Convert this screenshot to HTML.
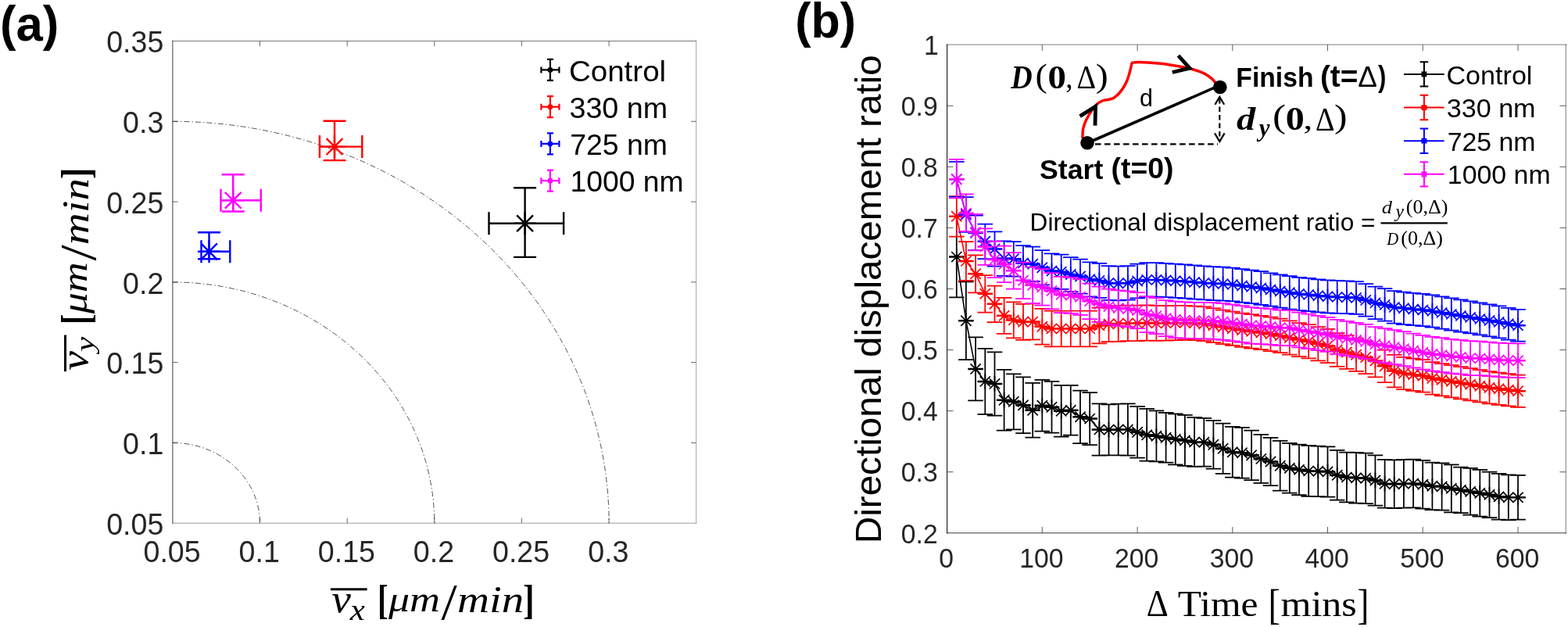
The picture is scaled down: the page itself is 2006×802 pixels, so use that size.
<!DOCTYPE html>
<html lang="en">
<head>
<meta charset="utf-8">
<title>Figure: velocity components and directional displacement ratio</title>
<style>
html,body{margin:0;padding:0;background:#fff;}
body{width:2006px;height:802px;overflow:hidden;}
svg{display:block;}
text{white-space:pre;}
</style>
</head>
<body>
<svg width="2006" height="802" viewBox="0 0 2006 802">
<rect width="2006" height="802" fill="#fff"/>
<g id="panel-a">
<g fill="none" stroke="#000" stroke-width="0.8" stroke-dasharray="7 3 1.5 3" opacity="0.85">
<path d="M220.9 566.4 A111.6 102.8 0 0 1 332.5 669.2"/>
<path d="M220.9 360.9 A334.9 308.4 0 0 1 555.8 669.2"/>
<path d="M220.9 155.3 A558.2 513.9 0 0 1 779.1 669.2"/>
</g>
<g fill="none" stroke="#262626" stroke-width="1" stroke-linecap="square">
<path d="M220.9 52.5 V669.2" stroke-opacity="0.9"/>
<path d="M220.9 52.5 H890.7" stroke-opacity="0.62"/>
<path d="M890.7 52.5 V669.2" stroke-opacity="0.42"/>
<path d="M220.9 669.2 H890.7" stroke-opacity="0.45"/>
</g>
<g stroke="#262626" stroke-width="1" stroke-opacity="0.7">
<path d="M332.5 669.2 v-6.7 M332.5 52.5 v6.7"/>
<path d="M220.9 566.4 h6.7 M890.7 566.4 h-6.7"/>
<path d="M444.2 669.2 v-6.7 M444.2 52.5 v6.7"/>
<path d="M220.9 463.6 h6.7 M890.7 463.6 h-6.7"/>
<path d="M555.8 669.2 v-6.7 M555.8 52.5 v6.7"/>
<path d="M220.9 360.9 h6.7 M890.7 360.9 h-6.7"/>
<path d="M667.4 669.2 v-6.7 M667.4 52.5 v6.7"/>
<path d="M220.9 258.1 h6.7 M890.7 258.1 h-6.7"/>
<path d="M779.1 669.2 v-6.7 M779.1 52.5 v6.7"/>
<path d="M220.9 155.3 h6.7 M890.7 155.3 h-6.7"/>
</g>
<g font-family="'Liberation Sans', Arial, sans-serif" font-size="37.6" fill="#262626">
<text transform="translate(220.1 718.9) scale(1 1.035)" text-anchor="middle">0.05</text>
<text transform="translate(331.7 718.9) scale(1 1.035)" text-anchor="middle">0.1</text>
<text transform="translate(443.4 718.9) scale(1 1.035)" text-anchor="middle">0.15</text>
<text transform="translate(555.0 718.9) scale(1 1.035)" text-anchor="middle">0.2</text>
<text transform="translate(666.6 718.9) scale(1 1.035)" text-anchor="middle">0.25</text>
<text transform="translate(778.3 718.9) scale(1 1.035)" text-anchor="middle">0.3</text>
<text transform="translate(209.3 683.8) scale(1 1.035)" text-anchor="end">0.05</text>
<text transform="translate(209.3 581.0) scale(1 1.035)" text-anchor="end">0.1</text>
<text transform="translate(209.3 478.2) scale(1 1.035)" text-anchor="end">0.15</text>
<text transform="translate(209.3 375.5) scale(1 1.035)" text-anchor="end">0.2</text>
<text transform="translate(209.3 272.7) scale(1 1.035)" text-anchor="end">0.25</text>
<text transform="translate(209.3 169.9) scale(1 1.035)" text-anchor="end">0.3</text>
<text transform="translate(209.3 67.1) scale(1 1.035)" text-anchor="end">0.35</text>
</g>
<g stroke="#000000" stroke-width="2.4" fill="none">
<path d="M671.6 240.3 V328.9 M657.1 240.3 h29.0 M657.1 328.9 h29.0"/>
<path d="M625.5 285.8 H721.1 M625.5 271.3 v29.0 M721.1 271.3 v29.0"/>
<path d="M661.2 275.40000000000003 L682.0 296.2 M661.2 296.2 L682.0 275.40000000000003 M657.1 285.8 h29.0 M671.6 271.3 v29.0"/>
</g>
<g stroke="#ff0000" stroke-width="2.4" fill="none">
<path d="M428.0 154.7 V205.1 M413.5 154.7 h29.0 M413.5 205.1 h29.0"/>
<path d="M408.9 187.6 H463.3 M408.9 173.1 v29.0 M463.3 173.1 v29.0"/>
<path d="M417.6 177.2 L438.4 198.0 M417.6 198.0 L438.4 177.2 M413.5 187.6 h29.0 M428.0 173.1 v29.0"/>
</g>
<g stroke="#0000ff" stroke-width="2.4" fill="none">
<path d="M267.5 297.2 V331.3 M253.0 297.2 h29.0 M253.0 331.3 h29.0"/>
<path d="M257.5 321.8 H294.3 M257.5 307.3 v29.0 M294.3 307.3 v29.0"/>
<path d="M257.1 311.40000000000003 L277.9 332.2 M257.1 332.2 L277.9 311.40000000000003 M253.0 321.8 h29.0 M267.5 307.3 v29.0"/>
</g>
<g stroke="#ff00ff" stroke-width="2.4" fill="none">
<path d="M298.2 223.2 V270.5 M283.7 223.2 h29.0 M283.7 270.5 h29.0"/>
<path d="M282.5 256.3 H333.8 M282.5 241.8 v29.0 M333.8 241.8 v29.0"/>
<path d="M287.8 245.9 L308.59999999999997 266.7 M287.8 266.7 L308.59999999999997 245.9 M283.7 256.3 h29.0 M298.2 241.8 v29.0"/>
</g>
<g stroke="#000000" stroke-width="2.2" fill="none">
<path d="M703.9 75.9 V102.9 M699.9 75.9 h8 M699.9 102.9 h8"/>
<path d="M692.4 89.4 H715.4 M692.4 85.4 v8 M715.4 85.4 v8"/>
<circle cx="703.9" cy="89.4" r="3.4" fill="#000000" stroke="none"/>
</g>
<text transform="translate(727.97 103.60) scale(0.3852 0.3717)" font-family="'Liberation Sans', Arial, sans-serif" font-size="100" fill="#000">Control</text>
<g stroke="#ff0000" stroke-width="2.2" fill="none">
<path d="M703.9 123.15 V150.15 M699.9 123.15 h8 M699.9 150.15 h8"/>
<path d="M692.4 136.65 H715.4 M692.4 132.65 v8 M715.4 132.65 v8"/>
<circle cx="703.9" cy="136.65" r="3.4" fill="#ff0000" stroke="none"/>
</g>
<text transform="translate(728.49 150.85) scale(0.3765 0.3765)" font-family="'Liberation Sans', Arial, sans-serif" font-size="100" fill="#000">330 nm</text>
<g stroke="#0000ff" stroke-width="2.2" fill="none">
<path d="M703.9 170.4 V197.4 M699.9 170.4 h8 M699.9 197.4 h8"/>
<path d="M692.4 183.9 H715.4 M692.4 179.9 v8 M715.4 179.9 v8"/>
<circle cx="703.9" cy="183.9" r="3.4" fill="#0000ff" stroke="none"/>
</g>
<text transform="translate(729.23 198.10) scale(0.3742 0.3742)" font-family="'Liberation Sans', Arial, sans-serif" font-size="100" fill="#000">725 nm</text>
<g stroke="#ff00ff" stroke-width="2.2" fill="none">
<path d="M703.9 217.65 V244.65 M699.9 217.65 h8 M699.9 244.65 h8"/>
<path d="M692.4 231.15 H715.4 M692.4 227.15 v8 M715.4 227.15 v8"/>
<circle cx="703.9" cy="231.15" r="3.4" fill="#ff00ff" stroke="none"/>
</g>
<text transform="translate(729.61 245.35) scale(0.3725 0.3725)" font-family="'Liberation Sans', Arial, sans-serif" font-size="100" fill="#000">1000 nm</text>
<g><path d="M422.9 753.8 H469.6" stroke="#000" stroke-width="3" fill="none"/><text transform="translate(424.27 782.70) scale(0.5558 0.4979)" font-family="'Liberation Serif', 'DejaVu Serif', serif" font-size="100" font-style="italic" fill="#000">v</text><text transform="translate(447.74 793.10) scale(0.4311 0.3739)" font-family="'Liberation Serif', 'DejaVu Serif', serif" font-size="100" font-style="italic" fill="#000">x</text><text transform="translate(483.07 785.28) scale(0.4045 0.5277)" font-family="'Liberation Serif', 'DejaVu Serif', serif" font-size="100" font-weight="bold" fill="#000">[</text><text transform="translate(496.90 781.62) scale(0.5395 0.4642)" font-family="'Liberation Serif', 'DejaVu Serif', serif" font-size="100" font-style="italic" fill="#000">μm</text><text transform="translate(564.50 792.15) scale(0.7279 0.6478)" font-family="'Liberation Serif', 'DejaVu Serif', serif" font-size="100" fill="#000">/</text><text transform="translate(584.91 783.30) scale(0.5680 0.4785)" font-family="'Liberation Serif', 'DejaVu Serif', serif" font-size="100" font-style="italic" fill="#000">min</text><text transform="translate(669.19 785.28) scale(0.4311 0.5277)" font-family="'Liberation Serif', 'DejaVu Serif', serif" font-size="100" font-weight="bold" fill="#000">]</text></g>
<g transform="translate(-670.3 898.1) rotate(-90)"><path d="M422.9 753.8 H469.6" stroke="#000" stroke-width="3" fill="none"/><text transform="translate(424.27 782.70) scale(0.5558 0.4979)" font-family="'Liberation Serif', 'DejaVu Serif', serif" font-size="100" font-style="italic" fill="#000">v</text><text transform="translate(448.25 790.67) scale(0.4303 0.3363)" font-family="'Liberation Serif', 'DejaVu Serif', serif" font-size="100" font-style="italic" fill="#000">y</text><text transform="translate(483.07 785.28) scale(0.4045 0.5277)" font-family="'Liberation Serif', 'DejaVu Serif', serif" font-size="100" font-weight="bold" fill="#000">[</text><text transform="translate(496.90 781.62) scale(0.5395 0.4642)" font-family="'Liberation Serif', 'DejaVu Serif', serif" font-size="100" font-style="italic" fill="#000">μm</text><text transform="translate(564.50 792.15) scale(0.7279 0.6478)" font-family="'Liberation Serif', 'DejaVu Serif', serif" font-size="100" fill="#000">/</text><text transform="translate(584.91 783.30) scale(0.5680 0.4785)" font-family="'Liberation Serif', 'DejaVu Serif', serif" font-size="100" font-style="italic" fill="#000">min</text><text transform="translate(669.19 785.28) scale(0.4311 0.5277)" font-family="'Liberation Serif', 'DejaVu Serif', serif" font-size="100" font-weight="bold" fill="#000">]</text></g>
<text transform="translate(-0.08 51.72) scale(0.6165 0.6306)" font-family="'Liberation Sans', Arial, sans-serif" font-size="100" font-weight="bold" fill="#000">(a)</text>
</g>
<g id="panel-b">
<g fill="none" stroke="#262626" stroke-linecap="square">
<path d="M1211.6 57.2 H2003.3" stroke-opacity="0.34" stroke-width="1.7"/>
<path d="M2003.3 57.2 V681.8" stroke-opacity="0.38" stroke-width="1.7"/>
<path d="M1211.6 57.2 V681.8" stroke-width="1.2"/>
<path d="M1211.6 681.8 H2003.3" stroke-opacity="0.9" stroke-width="1.1"/>
</g>
<g stroke="#262626" stroke-width="1" stroke-opacity="0.75">
<path d="M1333.3 681.8 v-7.9 M1333.3 57.2 v7.9"/>
<path d="M1455.1 681.8 v-7.9 M1455.1 57.2 v7.9"/>
<path d="M1576.8 681.8 v-7.9 M1576.8 57.2 v7.9"/>
<path d="M1698.5 681.8 v-7.9 M1698.5 57.2 v7.9"/>
<path d="M1820.2 681.8 v-7.9 M1820.2 57.2 v7.9"/>
<path d="M1942.0 681.8 v-7.9 M1942.0 57.2 v7.9"/>
<path d="M1211.6 603.7 h7.9 M2003.3 603.7 h-7.9"/>
<path d="M1211.6 525.6 h7.9 M2003.3 525.6 h-7.9"/>
<path d="M1211.6 447.6 h7.9 M2003.3 447.6 h-7.9"/>
<path d="M1211.6 369.5 h7.9 M2003.3 369.5 h-7.9"/>
<path d="M1211.6 291.4 h7.9 M2003.3 291.4 h-7.9"/>
<path d="M1211.6 213.4 h7.9 M2003.3 213.4 h-7.9"/>
<path d="M1211.6 135.3 h7.9 M2003.3 135.3 h-7.9"/>
</g>
<g font-family="'Liberation Sans', Arial, sans-serif" font-size="33.7" fill="#262626">
<text transform="translate(1210.7 726.1) scale(1 1.04)" text-anchor="middle">0</text>
<text transform="translate(1332.4 726.1) scale(1 1.04)" text-anchor="middle">100</text>
<text transform="translate(1454.2 726.1) scale(1 1.04)" text-anchor="middle">200</text>
<text transform="translate(1575.9 726.1) scale(1 1.04)" text-anchor="middle">300</text>
<text transform="translate(1697.6 726.1) scale(1 1.04)" text-anchor="middle">400</text>
<text transform="translate(1819.3 726.1) scale(1 1.04)" text-anchor="middle">500</text>
<text transform="translate(1941.1 726.1) scale(1 1.04)" text-anchor="middle">600</text>
<text transform="translate(1199.7 694.5) scale(1 1.04)" text-anchor="end">0.2</text>
<text transform="translate(1199.7 616.4) scale(1 1.04)" text-anchor="end">0.3</text>
<text transform="translate(1199.7 538.4) scale(1 1.04)" text-anchor="end">0.4</text>
<text transform="translate(1199.7 460.3) scale(1 1.04)" text-anchor="end">0.5</text>
<text transform="translate(1199.7 382.2) scale(1 1.04)" text-anchor="end">0.6</text>
<text transform="translate(1199.7 304.1) scale(1 1.04)" text-anchor="end">0.7</text>
<text transform="translate(1199.7 226.1) scale(1 1.04)" text-anchor="end">0.8</text>
<text transform="translate(1199.7 148.0) scale(1 1.04)" text-anchor="end">0.9</text>
<text transform="translate(1200.7 69.9) scale(1 1.04)" text-anchor="end">1</text>
</g>
<g stroke="#000000" stroke-width="1.75" fill="none">
<path d="M1223.8 276.9V380.3M1214.0 276.9h19.6M1214.0 380.3h19.6M1235.9 360.3V460.1M1226.1 360.3h19.6M1226.1 460.1h19.6M1248.1 431.4V512.4M1238.3 431.4h19.6M1238.3 512.4h19.6M1260.3 445.9V529.9M1250.5 445.9h19.6M1250.5 529.9h19.6M1272.5 450.3V531.5M1262.7 450.3h19.6M1262.7 531.5h19.6M1284.6 472.9V550.7M1274.8 472.9h19.6M1274.8 550.7h19.6M1296.8 478.3V549.3M1287.0 478.3h19.6M1287.0 549.3h19.6M1309.0 482.3V554.1M1299.2 482.3h19.6M1299.2 554.1h19.6M1321.2 489.9V559.7M1311.4 489.9h19.6M1311.4 559.7h19.6M1333.3 485.9V551.7M1323.5 485.9h19.6M1323.5 551.7h19.6M1345.5 487.9V553.7M1335.7 487.9h19.6M1335.7 553.7h19.6M1357.7 492.9V558.7M1347.9 492.9h19.6M1347.9 558.7h19.6M1369.8 492.9V556.7M1360.0 492.9h19.6M1360.0 556.7h19.6M1382.0 499.5V567.1M1372.2 499.5h19.6M1372.2 567.1h19.6M1394.2 502.0V569.2M1384.4 502.0h19.6M1384.4 569.2h19.6M1406.4 516.3V582.5M1396.6 516.3h19.6M1396.6 582.5h19.6M1418.5 517.3V582.3M1408.7 517.3h19.6M1408.7 582.3h19.6M1430.7 516.5V582.3M1420.9 516.5h19.6M1420.9 582.3h19.6M1442.9 516.3V582.5M1433.1 516.3h19.6M1433.1 582.5h19.6M1455.1 519.9V585.7M1445.3 519.9h19.6M1445.3 585.7h19.6M1467.2 522.9V589.5M1457.4 522.9h19.6M1457.4 589.5h19.6M1479.4 525.3V590.3M1469.6 525.3h19.6M1469.6 590.3h19.6M1491.6 527.9V591.7M1481.8 527.9h19.6M1481.8 591.7h19.6M1503.8 529.3V594.3M1494.0 529.3h19.6M1494.0 594.3h19.6M1515.9 530.9V595.9M1506.1 530.9h19.6M1506.1 595.9h19.6M1528.1 533.9V596.9M1518.3 533.9h19.6M1518.3 596.9h19.6M1540.3 534.9V596.7M1530.5 534.9h19.6M1530.5 596.7h19.6M1552.4 537.9V599.7M1542.6 537.9h19.6M1542.6 599.7h19.6M1564.6 541.7V605.9M1554.8 541.7h19.6M1554.8 605.9h19.6M1576.8 545.8V610.6M1567.0 545.8h19.6M1567.0 610.6h19.6M1589.0 546.9V611.7M1579.2 546.9h19.6M1579.2 611.7h19.6M1601.1 550.5V614.1M1591.3 550.5h19.6M1591.3 614.1h19.6M1613.3 555.9V617.9M1603.5 555.9h19.6M1603.5 617.9h19.6M1625.5 559.9V621.1M1615.7 559.9h19.6M1615.7 621.1h19.6M1637.7 563.9V627.7M1627.9 563.9h19.6M1627.9 627.7h19.6M1649.8 566.9V630.7M1640.0 566.9h19.6M1640.0 630.7h19.6M1662.0 568.5V633.1M1652.2 568.5h19.6M1652.2 633.1h19.6M1674.2 569.9V634.9M1664.4 569.9h19.6M1664.4 634.9h19.6M1686.3 570.5V635.1M1676.5 570.5h19.6M1676.5 635.1h19.6M1698.5 571.3V635.5M1688.7 571.3h19.6M1688.7 635.5h19.6M1710.7 575.9V639.7M1700.9 575.9h19.6M1700.9 639.7h19.6M1722.9 578.5V642.3M1713.1 578.5h19.6M1713.1 642.3h19.6M1735.0 578.9V643.5M1725.2 578.9h19.6M1725.2 643.5h19.6M1747.2 579.5V644.1M1737.4 579.5h19.6M1737.4 644.1h19.6M1759.4 582.4V646.6M1749.6 582.4h19.6M1749.6 646.6h19.6M1771.6 587.9V649.7M1761.8 587.9h19.6M1761.8 649.7h19.6M1783.7 588.3V650.1M1773.9 588.3h19.6M1773.9 650.1h19.6M1795.9 587.9V649.7M1786.1 587.9h19.6M1786.1 649.7h19.6M1808.1 587.5V649.3M1798.3 587.5h19.6M1798.3 649.3h19.6M1820.2 588.9V650.7M1810.5 588.9h19.6M1810.5 650.7h19.6M1832.4 591.5V652.1M1822.6 591.5h19.6M1822.6 652.1h19.6M1844.6 592.3V652.5M1834.8 592.3h19.6M1834.8 652.5h19.6M1856.8 594.3V655.3M1847.0 594.3h19.6M1847.0 655.3h19.6M1868.9 597.5V656.1M1859.1 597.5h19.6M1859.1 656.1h19.6M1881.1 598.9V658.7M1871.3 598.9h19.6M1871.3 658.7h19.6M1893.3 600.9V660.7M1883.5 600.9h19.6M1883.5 660.7h19.6M1905.5 603.5V662.1M1895.7 603.5h19.6M1895.7 662.1h19.6M1917.6 605.9V664.5M1907.8 605.9h19.6M1907.8 664.5h19.6M1929.8 607.3V665.1M1920.0 607.3h19.6M1920.0 665.1h19.6M1942.0 607.9V664.5M1932.2 607.9h19.6M1932.2 664.5h19.6"/>
<path d="M1223.8 328.6 L1235.9 410.2 L1248.1 471.9 L1260.3 487.9 L1272.5 490.9 L1284.6 511.8 L1296.8 513.8 L1309.0 518.2 L1321.2 524.8 L1333.3 518.8 L1345.5 520.8 L1357.7 525.8 L1369.8 524.8 L1382.0 533.3 L1394.2 535.6 L1406.4 549.4 L1418.5 549.8 L1430.7 549.4 L1442.9 549.4 L1455.1 552.8 L1467.2 556.2 L1479.4 557.8 L1491.6 559.8 L1503.8 561.8 L1515.9 563.4 L1528.1 565.4 L1540.3 565.8 L1552.4 568.8 L1564.6 573.8 L1576.8 578.2 L1589.0 579.3 L1601.1 582.3 L1613.3 586.9 L1625.5 590.5 L1637.7 595.8 L1649.8 598.8 L1662.0 600.8 L1674.2 602.4 L1686.3 602.8 L1698.5 603.4 L1710.7 607.8 L1722.9 610.4 L1735.0 611.2 L1747.2 611.8 L1759.4 614.5 L1771.6 618.8 L1783.7 619.2 L1795.9 618.8 L1808.1 618.4 L1820.2 619.8 L1832.4 621.8 L1844.6 622.4 L1856.8 624.8 L1868.9 626.8 L1881.1 628.8 L1893.3 630.8 L1905.5 632.8 L1917.6 635.2 L1929.8 636.2 L1942.0 636.2" stroke-width="1.6" stroke-linejoin="round"/>
<path d="M1223.8 318.8v19.6M1217.2 322.0l13.2 13.2M1217.2 335.2l13.2 -13.2M1235.9 400.4v19.6M1229.3 403.6l13.2 13.2M1229.3 416.8l13.2 -13.2M1248.1 462.1v19.6M1241.5 465.3l13.2 13.2M1241.5 478.5l13.2 -13.2M1260.3 478.1v19.6M1253.7 481.3l13.2 13.2M1253.7 494.5l13.2 -13.2M1272.5 481.1v19.6M1265.9 484.3l13.2 13.2M1265.9 497.5l13.2 -13.2M1284.6 502.0v19.6M1278.0 505.2l13.2 13.2M1278.0 518.4l13.2 -13.2M1296.8 504.0v19.6M1290.2 507.2l13.2 13.2M1290.2 520.4l13.2 -13.2M1309.0 508.4v19.6M1302.4 511.6l13.2 13.2M1302.4 524.8l13.2 -13.2M1321.2 515.0v19.6M1314.6 518.2l13.2 13.2M1314.6 531.4l13.2 -13.2M1333.3 509.0v19.6M1326.7 512.2l13.2 13.2M1326.7 525.4l13.2 -13.2M1345.5 511.0v19.6M1338.9 514.2l13.2 13.2M1338.9 527.4l13.2 -13.2M1357.7 516.0v19.6M1351.1 519.2l13.2 13.2M1351.1 532.4l13.2 -13.2M1369.8 515.0v19.6M1363.2 518.2l13.2 13.2M1363.2 531.4l13.2 -13.2M1382.0 523.5v19.6M1375.4 526.7l13.2 13.2M1375.4 539.9l13.2 -13.2M1394.2 525.8v19.6M1387.6 529.0l13.2 13.2M1387.6 542.2l13.2 -13.2M1406.4 539.6v19.6M1399.8 542.8l13.2 13.2M1399.8 556.0l13.2 -13.2M1418.5 540.0v19.6M1411.9 543.2l13.2 13.2M1411.9 556.4l13.2 -13.2M1430.7 539.6v19.6M1424.1 542.8l13.2 13.2M1424.1 556.0l13.2 -13.2M1442.9 539.6v19.6M1436.3 542.8l13.2 13.2M1436.3 556.0l13.2 -13.2M1455.1 543.0v19.6M1448.5 546.2l13.2 13.2M1448.5 559.4l13.2 -13.2M1467.2 546.4v19.6M1460.6 549.6l13.2 13.2M1460.6 562.8l13.2 -13.2M1479.4 548.0v19.6M1472.8 551.2l13.2 13.2M1472.8 564.4l13.2 -13.2M1491.6 550.0v19.6M1485.0 553.2l13.2 13.2M1485.0 566.4l13.2 -13.2M1503.8 552.0v19.6M1497.2 555.2l13.2 13.2M1497.2 568.4l13.2 -13.2M1515.9 553.6v19.6M1509.3 556.8l13.2 13.2M1509.3 570.0l13.2 -13.2M1528.1 555.6v19.6M1521.5 558.8l13.2 13.2M1521.5 572.0l13.2 -13.2M1540.3 556.0v19.6M1533.7 559.2l13.2 13.2M1533.7 572.4l13.2 -13.2M1552.4 559.0v19.6M1545.8 562.2l13.2 13.2M1545.8 575.4l13.2 -13.2M1564.6 564.0v19.6M1558.0 567.2l13.2 13.2M1558.0 580.4l13.2 -13.2M1576.8 568.4v19.6M1570.2 571.6l13.2 13.2M1570.2 584.8l13.2 -13.2M1589.0 569.5v19.6M1582.4 572.7l13.2 13.2M1582.4 585.9l13.2 -13.2M1601.1 572.5v19.6M1594.5 575.7l13.2 13.2M1594.5 588.9l13.2 -13.2M1613.3 577.1v19.6M1606.7 580.3l13.2 13.2M1606.7 593.5l13.2 -13.2M1625.5 580.7v19.6M1618.9 583.9l13.2 13.2M1618.9 597.1l13.2 -13.2M1637.7 586.0v19.6M1631.1 589.2l13.2 13.2M1631.1 602.4l13.2 -13.2M1649.8 589.0v19.6M1643.2 592.2l13.2 13.2M1643.2 605.4l13.2 -13.2M1662.0 591.0v19.6M1655.4 594.2l13.2 13.2M1655.4 607.4l13.2 -13.2M1674.2 592.6v19.6M1667.6 595.8l13.2 13.2M1667.6 609.0l13.2 -13.2M1686.3 593.0v19.6M1679.7 596.2l13.2 13.2M1679.7 609.4l13.2 -13.2M1698.5 593.6v19.6M1691.9 596.8l13.2 13.2M1691.9 610.0l13.2 -13.2M1710.7 598.0v19.6M1704.1 601.2l13.2 13.2M1704.1 614.4l13.2 -13.2M1722.9 600.6v19.6M1716.3 603.8l13.2 13.2M1716.3 617.0l13.2 -13.2M1735.0 601.4v19.6M1728.4 604.6l13.2 13.2M1728.4 617.8l13.2 -13.2M1747.2 602.0v19.6M1740.6 605.2l13.2 13.2M1740.6 618.4l13.2 -13.2M1759.4 604.7v19.6M1752.8 607.9l13.2 13.2M1752.8 621.1l13.2 -13.2M1771.6 609.0v19.6M1765.0 612.2l13.2 13.2M1765.0 625.4l13.2 -13.2M1783.7 609.4v19.6M1777.1 612.6l13.2 13.2M1777.1 625.8l13.2 -13.2M1795.9 609.0v19.6M1789.3 612.2l13.2 13.2M1789.3 625.4l13.2 -13.2M1808.1 608.6v19.6M1801.5 611.8l13.2 13.2M1801.5 625.0l13.2 -13.2M1820.2 610.0v19.6M1813.7 613.2l13.2 13.2M1813.7 626.4l13.2 -13.2M1832.4 612.0v19.6M1825.8 615.2l13.2 13.2M1825.8 628.4l13.2 -13.2M1844.6 612.6v19.6M1838.0 615.8l13.2 13.2M1838.0 629.0l13.2 -13.2M1856.8 615.0v19.6M1850.2 618.2l13.2 13.2M1850.2 631.4l13.2 -13.2M1868.9 617.0v19.6M1862.3 620.2l13.2 13.2M1862.3 633.4l13.2 -13.2M1881.1 619.0v19.6M1874.5 622.2l13.2 13.2M1874.5 635.4l13.2 -13.2M1893.3 621.0v19.6M1886.7 624.2l13.2 13.2M1886.7 637.4l13.2 -13.2M1905.5 623.0v19.6M1898.9 626.2l13.2 13.2M1898.9 639.4l13.2 -13.2M1917.6 625.4v19.6M1911.0 628.6l13.2 13.2M1911.0 641.8l13.2 -13.2M1929.8 626.4v19.6M1923.2 629.6l13.2 13.2M1923.2 642.8l13.2 -13.2M1942.0 626.4v19.6M1935.4 629.6l13.2 13.2M1935.4 642.8l13.2 -13.2" stroke-width="1.7"/>
<path d="M1214.0 328.6h19.6M1226.1 410.2h19.6M1238.3 471.9h19.6M1250.5 487.9h19.6M1262.7 490.9h19.6M1274.8 511.8h19.6M1287.0 513.8h19.6M1299.2 518.2h19.6M1311.4 524.8h19.6M1323.5 518.8h19.6M1335.7 520.8h19.6M1347.9 525.8h19.6M1360.0 524.8h19.6M1372.2 533.3h19.6M1384.4 535.6h19.6M1396.6 549.4h19.6M1408.7 549.8h19.6M1420.9 549.4h19.6M1433.1 549.4h19.6M1445.3 552.8h19.6M1457.4 556.2h19.6M1469.6 557.8h19.6M1481.8 559.8h19.6M1494.0 561.8h19.6M1506.1 563.4h19.6M1518.3 565.4h19.6M1530.5 565.8h19.6M1542.6 568.8h19.6M1554.8 573.8h19.6M1567.0 578.2h19.6M1579.2 579.3h19.6M1591.3 582.3h19.6M1603.5 586.9h19.6M1615.7 590.5h19.6M1627.9 595.8h19.6M1640.0 598.8h19.6M1652.2 600.8h19.6M1664.4 602.4h19.6M1676.5 602.8h19.6M1688.7 603.4h19.6M1700.9 607.8h19.6M1713.1 610.4h19.6M1725.2 611.2h19.6M1737.4 611.8h19.6M1749.6 614.5h19.6M1761.8 618.8h19.6M1773.9 619.2h19.6M1786.1 618.8h19.6M1798.3 618.4h19.6M1810.5 619.8h19.6M1822.6 621.8h19.6M1834.8 622.4h19.6M1847.0 624.8h19.6M1859.1 626.8h19.6M1871.3 628.8h19.6M1883.5 630.8h19.6M1895.7 632.8h19.6M1907.8 635.2h19.6M1920.0 636.2h19.6M1932.2 636.2h19.6" stroke-width="2.5"/>
</g>
<g stroke="#ff0000" stroke-width="1.75" fill="none">
<path d="M1223.8 251.0V302.6M1214.0 251.0h19.6M1214.0 302.6h19.6M1235.9 309.0V358.8M1226.1 309.0h19.6M1226.1 358.8h19.6M1248.1 326.3V374.3M1238.3 326.3h19.6M1238.3 374.3h19.6M1260.3 352.1V399.5M1250.5 352.1h19.6M1250.5 399.5h19.6M1272.5 365.5V412.1M1262.7 365.5h19.6M1262.7 412.1h19.6M1284.6 380.8V426.8M1274.8 380.8h19.6M1274.8 426.8h19.6M1296.8 386.4V432.4M1287.0 386.4h19.6M1287.0 432.4h19.6M1309.0 388.8V434.8M1299.2 388.8h19.6M1299.2 434.8h19.6M1321.2 388.4V434.4M1311.4 388.4h19.6M1311.4 434.4h19.6M1333.3 394.9V440.7M1323.5 394.9h19.6M1323.5 440.7h19.6M1345.5 397.5V443.3M1335.7 397.5h19.6M1335.7 443.3h19.6M1357.7 397.5V443.3M1347.9 397.5h19.6M1347.9 443.3h19.6M1369.8 397.5V443.3M1360.0 397.5h19.6M1360.0 443.3h19.6M1382.0 397.5V443.3M1372.2 397.5h19.6M1372.2 443.3h19.6M1394.2 397.5V443.3M1384.4 397.5h19.6M1384.4 443.3h19.6M1406.4 393.5V439.3M1396.6 393.5h19.6M1396.6 439.3h19.6M1418.5 391.6V437.2M1408.7 391.6h19.6M1408.7 437.2h19.6M1430.7 391.2V436.8M1420.9 391.2h19.6M1420.9 436.8h19.6M1442.9 390.6V436.2M1433.1 390.6h19.6M1433.1 436.2h19.6M1455.1 390.6V436.2M1445.3 390.6h19.6M1445.3 436.2h19.6M1467.2 390.4V435.6M1457.4 390.4h19.6M1457.4 435.6h19.6M1479.4 390.9V435.9M1469.6 390.9h19.6M1469.6 435.9h19.6M1491.6 391.1V435.7M1481.8 391.1h19.6M1481.8 435.7h19.6M1503.8 390.9V435.1M1494.0 390.9h19.6M1494.0 435.1h19.6M1515.9 390.9V434.9M1506.1 390.9h19.6M1506.1 434.9h19.6M1528.1 391.5V435.1M1518.3 391.5h19.6M1518.3 435.1h19.6M1540.3 392.4V436.0M1530.5 392.4h19.6M1530.5 436.0h19.6M1552.4 394.4V438.0M1542.6 394.4h19.6M1542.6 438.0h19.6M1564.6 396.5V440.1M1554.8 396.5h19.6M1554.8 440.1h19.6M1576.8 398.5V441.9M1567.0 398.5h19.6M1567.0 441.9h19.6M1589.0 400.5V443.9M1579.2 400.5h19.6M1579.2 443.9h19.6M1601.1 402.2V445.6M1591.3 402.2h19.6M1591.3 445.6h19.6M1613.3 403.8V447.2M1603.5 403.8h19.6M1603.5 447.2h19.6M1625.5 405.6V449.0M1615.7 405.6h19.6M1615.7 449.0h19.6M1637.7 407.7V451.1M1627.9 407.7h19.6M1627.9 451.1h19.6M1649.8 410.3V453.7M1640.0 410.3h19.6M1640.0 453.7h19.6M1662.0 413.0V456.2M1652.2 413.0h19.6M1652.2 456.2h19.6M1674.2 415.2V458.4M1664.4 415.2h19.6M1664.4 458.4h19.6M1686.3 418.2V461.4M1676.5 418.2h19.6M1676.5 461.4h19.6M1698.5 420.8V464.0M1688.7 420.8h19.6M1688.7 464.0h19.6M1710.7 426.1V468.9M1700.9 426.1h19.6M1700.9 468.9h19.6M1722.9 429.2V471.8M1713.1 429.2h19.6M1713.1 471.8h19.6M1735.0 432.7V474.9M1725.2 432.7h19.6M1725.2 474.9h19.6M1747.2 436.0V478.0M1737.4 436.0h19.6M1737.4 478.0h19.6M1759.4 440.6V482.4M1749.6 440.6h19.6M1749.6 482.4h19.6M1771.6 447.6V489.0M1761.8 447.6h19.6M1761.8 489.0h19.6M1783.7 453.9V495.3M1773.9 453.9h19.6M1773.9 495.3h19.6M1795.9 456.8V498.2M1786.1 456.8h19.6M1786.1 498.2h19.6M1808.1 458.5V499.9M1798.3 458.5h19.6M1798.3 499.9h19.6M1820.2 460.1V501.5M1810.5 460.1h19.6M1810.5 501.5h19.6M1832.4 463.1V504.5M1822.6 463.1h19.6M1822.6 504.5h19.6M1844.6 465.0V506.4M1834.8 465.0h19.6M1834.8 506.4h19.6M1856.8 467.1V508.3M1847.0 467.1h19.6M1847.0 508.3h19.6M1868.9 469.1V510.3M1859.1 469.1h19.6M1859.1 510.3h19.6M1881.1 471.1V512.3M1871.3 471.1h19.6M1871.3 512.3h19.6M1893.3 473.1V514.3M1883.5 473.1h19.6M1883.5 514.3h19.6M1905.5 475.1V516.3M1895.7 475.1h19.6M1895.7 516.3h19.6M1917.6 476.7V517.9M1907.8 476.7h19.6M1907.8 517.9h19.6M1929.8 478.1V519.3M1920.0 478.1h19.6M1920.0 519.3h19.6M1942.0 479.7V520.9M1932.2 479.7h19.6M1932.2 520.9h19.6"/>
<path d="M1223.8 276.8 L1235.9 333.9 L1248.1 350.3 L1260.3 375.8 L1272.5 388.8 L1284.6 403.8 L1296.8 409.4 L1309.0 411.8 L1321.2 411.4 L1333.3 417.8 L1345.5 420.4 L1357.7 420.4 L1369.8 420.4 L1382.0 420.4 L1394.2 420.4 L1406.4 416.4 L1418.5 414.4 L1430.7 414.0 L1442.9 413.4 L1455.1 413.4 L1467.2 413.0 L1479.4 413.4 L1491.6 413.4 L1503.8 413.0 L1515.9 412.9 L1528.1 413.3 L1540.3 414.2 L1552.4 416.2 L1564.6 418.3 L1576.8 420.2 L1589.0 422.2 L1601.1 423.9 L1613.3 425.5 L1625.5 427.3 L1637.7 429.4 L1649.8 432.0 L1662.0 434.6 L1674.2 436.8 L1686.3 439.8 L1698.5 442.4 L1710.7 447.5 L1722.9 450.5 L1735.0 453.8 L1747.2 457.0 L1759.4 461.5 L1771.6 468.3 L1783.7 474.6 L1795.9 477.5 L1808.1 479.2 L1820.2 480.8 L1832.4 483.8 L1844.6 485.7 L1856.8 487.7 L1868.9 489.7 L1881.1 491.7 L1893.3 493.7 L1905.5 495.7 L1917.6 497.3 L1929.8 498.7 L1942.0 500.3" stroke-width="1.6" stroke-linejoin="round"/>
<path d="M1223.8 267.0v19.6M1217.2 270.2l13.2 13.2M1217.2 283.4l13.2 -13.2M1235.9 324.1v19.6M1229.3 327.3l13.2 13.2M1229.3 340.5l13.2 -13.2M1248.1 340.5v19.6M1241.5 343.7l13.2 13.2M1241.5 356.9l13.2 -13.2M1260.3 366.0v19.6M1253.7 369.2l13.2 13.2M1253.7 382.4l13.2 -13.2M1272.5 379.0v19.6M1265.9 382.2l13.2 13.2M1265.9 395.4l13.2 -13.2M1284.6 394.0v19.6M1278.0 397.2l13.2 13.2M1278.0 410.4l13.2 -13.2M1296.8 399.6v19.6M1290.2 402.8l13.2 13.2M1290.2 416.0l13.2 -13.2M1309.0 402.0v19.6M1302.4 405.2l13.2 13.2M1302.4 418.4l13.2 -13.2M1321.2 401.6v19.6M1314.6 404.8l13.2 13.2M1314.6 418.0l13.2 -13.2M1333.3 408.0v19.6M1326.7 411.2l13.2 13.2M1326.7 424.4l13.2 -13.2M1345.5 410.6v19.6M1338.9 413.8l13.2 13.2M1338.9 427.0l13.2 -13.2M1357.7 410.6v19.6M1351.1 413.8l13.2 13.2M1351.1 427.0l13.2 -13.2M1369.8 410.6v19.6M1363.2 413.8l13.2 13.2M1363.2 427.0l13.2 -13.2M1382.0 410.6v19.6M1375.4 413.8l13.2 13.2M1375.4 427.0l13.2 -13.2M1394.2 410.6v19.6M1387.6 413.8l13.2 13.2M1387.6 427.0l13.2 -13.2M1406.4 406.6v19.6M1399.8 409.8l13.2 13.2M1399.8 423.0l13.2 -13.2M1418.5 404.6v19.6M1411.9 407.8l13.2 13.2M1411.9 421.0l13.2 -13.2M1430.7 404.2v19.6M1424.1 407.4l13.2 13.2M1424.1 420.6l13.2 -13.2M1442.9 403.6v19.6M1436.3 406.8l13.2 13.2M1436.3 420.0l13.2 -13.2M1455.1 403.6v19.6M1448.5 406.8l13.2 13.2M1448.5 420.0l13.2 -13.2M1467.2 403.2v19.6M1460.6 406.4l13.2 13.2M1460.6 419.6l13.2 -13.2M1479.4 403.6v19.6M1472.8 406.8l13.2 13.2M1472.8 420.0l13.2 -13.2M1491.6 403.6v19.6M1485.0 406.8l13.2 13.2M1485.0 420.0l13.2 -13.2M1503.8 403.2v19.6M1497.2 406.4l13.2 13.2M1497.2 419.6l13.2 -13.2M1515.9 403.1v19.6M1509.3 406.3l13.2 13.2M1509.3 419.5l13.2 -13.2M1528.1 403.5v19.6M1521.5 406.7l13.2 13.2M1521.5 419.9l13.2 -13.2M1540.3 404.4v19.6M1533.7 407.6l13.2 13.2M1533.7 420.8l13.2 -13.2M1552.4 406.4v19.6M1545.8 409.6l13.2 13.2M1545.8 422.8l13.2 -13.2M1564.6 408.5v19.6M1558.0 411.7l13.2 13.2M1558.0 424.9l13.2 -13.2M1576.8 410.4v19.6M1570.2 413.6l13.2 13.2M1570.2 426.8l13.2 -13.2M1589.0 412.4v19.6M1582.4 415.6l13.2 13.2M1582.4 428.8l13.2 -13.2M1601.1 414.1v19.6M1594.5 417.3l13.2 13.2M1594.5 430.5l13.2 -13.2M1613.3 415.7v19.6M1606.7 418.9l13.2 13.2M1606.7 432.1l13.2 -13.2M1625.5 417.5v19.6M1618.9 420.7l13.2 13.2M1618.9 433.9l13.2 -13.2M1637.7 419.6v19.6M1631.1 422.8l13.2 13.2M1631.1 436.0l13.2 -13.2M1649.8 422.2v19.6M1643.2 425.4l13.2 13.2M1643.2 438.6l13.2 -13.2M1662.0 424.8v19.6M1655.4 428.0l13.2 13.2M1655.4 441.2l13.2 -13.2M1674.2 427.0v19.6M1667.6 430.2l13.2 13.2M1667.6 443.4l13.2 -13.2M1686.3 430.0v19.6M1679.7 433.2l13.2 13.2M1679.7 446.4l13.2 -13.2M1698.5 432.6v19.6M1691.9 435.8l13.2 13.2M1691.9 449.0l13.2 -13.2M1710.7 437.7v19.6M1704.1 440.9l13.2 13.2M1704.1 454.1l13.2 -13.2M1722.9 440.7v19.6M1716.3 443.9l13.2 13.2M1716.3 457.1l13.2 -13.2M1735.0 444.0v19.6M1728.4 447.2l13.2 13.2M1728.4 460.4l13.2 -13.2M1747.2 447.2v19.6M1740.6 450.4l13.2 13.2M1740.6 463.6l13.2 -13.2M1759.4 451.7v19.6M1752.8 454.9l13.2 13.2M1752.8 468.1l13.2 -13.2M1771.6 458.5v19.6M1765.0 461.7l13.2 13.2M1765.0 474.9l13.2 -13.2M1783.7 464.8v19.6M1777.1 468.0l13.2 13.2M1777.1 481.2l13.2 -13.2M1795.9 467.7v19.6M1789.3 470.9l13.2 13.2M1789.3 484.1l13.2 -13.2M1808.1 469.4v19.6M1801.5 472.6l13.2 13.2M1801.5 485.8l13.2 -13.2M1820.2 471.0v19.6M1813.7 474.2l13.2 13.2M1813.7 487.4l13.2 -13.2M1832.4 474.0v19.6M1825.8 477.2l13.2 13.2M1825.8 490.4l13.2 -13.2M1844.6 475.9v19.6M1838.0 479.1l13.2 13.2M1838.0 492.3l13.2 -13.2M1856.8 477.9v19.6M1850.2 481.1l13.2 13.2M1850.2 494.3l13.2 -13.2M1868.9 479.9v19.6M1862.3 483.1l13.2 13.2M1862.3 496.3l13.2 -13.2M1881.1 481.9v19.6M1874.5 485.1l13.2 13.2M1874.5 498.3l13.2 -13.2M1893.3 483.9v19.6M1886.7 487.1l13.2 13.2M1886.7 500.3l13.2 -13.2M1905.5 485.9v19.6M1898.9 489.1l13.2 13.2M1898.9 502.3l13.2 -13.2M1917.6 487.5v19.6M1911.0 490.7l13.2 13.2M1911.0 503.9l13.2 -13.2M1929.8 488.9v19.6M1923.2 492.1l13.2 13.2M1923.2 505.3l13.2 -13.2M1942.0 490.5v19.6M1935.4 493.7l13.2 13.2M1935.4 506.9l13.2 -13.2" stroke-width="1.7"/>
<path d="M1214.0 276.8h19.6M1226.1 333.9h19.6M1238.3 350.3h19.6M1250.5 375.8h19.6M1262.7 388.8h19.6M1274.8 403.8h19.6M1287.0 409.4h19.6M1299.2 411.8h19.6M1311.4 411.4h19.6M1323.5 417.8h19.6M1335.7 420.4h19.6M1347.9 420.4h19.6M1360.0 420.4h19.6M1372.2 420.4h19.6M1384.4 420.4h19.6M1396.6 416.4h19.6M1408.7 414.4h19.6M1420.9 414.0h19.6M1433.1 413.4h19.6M1445.3 413.4h19.6M1457.4 413.0h19.6M1469.6 413.4h19.6M1481.8 413.4h19.6M1494.0 413.0h19.6M1506.1 412.9h19.6M1518.3 413.3h19.6M1530.5 414.2h19.6M1542.6 416.2h19.6M1554.8 418.3h19.6M1567.0 420.2h19.6M1579.2 422.2h19.6M1591.3 423.9h19.6M1603.5 425.5h19.6M1615.7 427.3h19.6M1627.9 429.4h19.6M1640.0 432.0h19.6M1652.2 434.6h19.6M1664.4 436.8h19.6M1676.5 439.8h19.6M1688.7 442.4h19.6M1700.9 447.5h19.6M1713.1 450.5h19.6M1725.2 453.8h19.6M1737.4 457.0h19.6M1749.6 461.5h19.6M1761.8 468.3h19.6M1773.9 474.6h19.6M1786.1 477.5h19.6M1798.3 479.2h19.6M1810.5 480.8h19.6M1822.6 483.8h19.6M1834.8 485.7h19.6M1847.0 487.7h19.6M1859.1 489.7h19.6M1871.3 491.7h19.6M1883.5 493.7h19.6M1895.7 495.7h19.6M1907.8 497.3h19.6M1920.0 498.7h19.6M1932.2 500.3h19.6" stroke-width="2.5"/>
</g>
<g stroke="#0000ff" stroke-width="1.75" fill="none">
<path d="M1223.8 206.9V251.5M1214.0 206.9h19.6M1214.0 251.5h19.6M1235.9 252.2V296.8M1226.1 252.2h19.6M1226.1 296.8h19.6M1248.1 275.6V320.2M1238.3 275.6h19.6M1238.3 320.2h19.6M1260.3 286.6V331.0M1250.5 286.6h19.6M1250.5 331.0h19.6M1272.5 296.3V340.7M1262.7 296.3h19.6M1262.7 340.7h19.6M1284.6 308.4V352.8M1274.8 308.4h19.6M1274.8 352.8h19.6M1296.8 309.1V353.5M1287.0 309.1h19.6M1287.0 353.5h19.6M1309.0 314.2V358.5M1299.2 314.2h19.6M1299.2 358.5h19.6M1321.2 315.7V359.9M1311.4 315.7h19.6M1311.4 359.9h19.6M1333.3 320.2V364.4M1323.5 320.2h19.6M1323.5 364.4h19.6M1345.5 324.4V368.6M1335.7 324.4h19.6M1335.7 368.6h19.6M1357.7 325.7V369.9M1347.9 325.7h19.6M1347.9 369.9h19.6M1369.8 329.0V373.0M1360.0 329.0h19.6M1360.0 373.0h19.6M1382.0 331.5V375.5M1372.2 331.5h19.6M1372.2 375.5h19.6M1394.2 335.3V379.3M1384.4 335.3h19.6M1384.4 379.3h19.6M1406.4 336.9V380.9M1396.6 336.9h19.6M1396.6 380.9h19.6M1418.5 340.0V383.8M1408.7 340.0h19.6M1408.7 383.8h19.6M1430.7 340.6V384.4M1420.9 340.6h19.6M1420.9 384.4h19.6M1442.9 340.1V383.7M1433.1 340.1h19.6M1433.1 383.7h19.6M1455.1 337.7V381.3M1445.3 337.7h19.6M1445.3 381.3h19.6M1467.2 336.1V379.7M1457.4 336.1h19.6M1457.4 379.7h19.6M1479.4 336.2V379.6M1469.6 336.2h19.6M1469.6 379.6h19.6M1491.6 336.8V380.2M1481.8 336.8h19.6M1481.8 380.2h19.6M1503.8 337.7V380.9M1494.0 337.7h19.6M1494.0 380.9h19.6M1515.9 338.3V381.5M1506.1 338.3h19.6M1506.1 381.5h19.6M1528.1 339.3V382.5M1518.3 339.3h19.6M1518.3 382.5h19.6M1540.3 340.4V383.4M1530.5 340.4h19.6M1530.5 383.4h19.6M1552.4 341.0V384.0M1542.6 341.0h19.6M1542.6 384.0h19.6M1564.6 341.7V384.5M1554.8 341.7h19.6M1554.8 384.5h19.6M1576.8 342.5V385.3M1567.0 342.5h19.6M1567.0 385.3h19.6M1589.0 344.1V386.9M1579.2 344.1h19.6M1579.2 386.9h19.6M1601.1 345.6V388.2M1591.3 345.6h19.6M1591.3 388.2h19.6M1613.3 347.2V389.8M1603.5 347.2h19.6M1603.5 389.8h19.6M1625.5 349.3V391.7M1615.7 349.3h19.6M1615.7 391.7h19.6M1637.7 351.3V393.7M1627.9 351.3h19.6M1627.9 393.7h19.6M1649.8 353.1V395.5M1640.0 353.1h19.6M1640.0 395.5h19.6M1662.0 354.8V397.0M1652.2 354.8h19.6M1652.2 397.0h19.6M1674.2 355.8V398.0M1664.4 355.8h19.6M1664.4 398.0h19.6M1686.3 357.3V399.3M1676.5 357.3h19.6M1676.5 399.3h19.6M1698.5 358.3V400.3M1688.7 358.3h19.6M1688.7 400.3h19.6M1710.7 358.9V400.9M1700.9 358.9h19.6M1700.9 400.9h19.6M1722.9 359.3V401.1M1713.1 359.3h19.6M1713.1 401.1h19.6M1735.0 360.0V401.8M1725.2 360.0h19.6M1725.2 401.8h19.6M1747.2 363.1V404.7M1737.4 363.1h19.6M1737.4 404.7h19.6M1759.4 366.6V408.2M1749.6 366.6h19.6M1749.6 408.2h19.6M1771.6 369.1V410.7M1761.8 369.1h19.6M1761.8 410.7h19.6M1783.7 372.2V413.6M1773.9 372.2h19.6M1773.9 413.6h19.6M1795.9 373.6V415.0M1786.1 373.6h19.6M1786.1 415.0h19.6M1808.1 374.8V416.2M1798.3 374.8h19.6M1798.3 416.2h19.6M1820.2 375.8V417.2M1810.5 375.8h19.6M1810.5 417.2h19.6M1832.4 377.3V418.5M1822.6 377.3h19.6M1822.6 418.5h19.6M1844.6 379.3V420.5M1834.8 379.3h19.6M1834.8 420.5h19.6M1856.8 381.3V422.5M1847.0 381.3h19.6M1847.0 422.5h19.6M1868.9 383.3V424.5M1859.1 383.3h19.6M1859.1 424.5h19.6M1881.1 385.4V426.4M1871.3 385.4h19.6M1871.3 426.4h19.6M1893.3 387.4V428.4M1883.5 387.4h19.6M1883.5 428.4h19.6M1905.5 389.4V430.4M1895.7 389.4h19.6M1895.7 430.4h19.6M1917.6 391.4V432.4M1907.8 391.4h19.6M1907.8 432.4h19.6M1929.8 393.9V434.7M1920.0 393.9h19.6M1920.0 434.7h19.6M1942.0 395.9V436.7M1932.2 395.9h19.6M1932.2 436.7h19.6"/>
<path d="M1223.8 229.2 L1235.9 274.5 L1248.1 297.9 L1260.3 308.8 L1272.5 318.5 L1284.6 330.6 L1296.8 331.3 L1309.0 336.4 L1321.2 337.8 L1333.3 342.3 L1345.5 346.5 L1357.7 347.8 L1369.8 351.0 L1382.0 353.5 L1394.2 357.3 L1406.4 358.9 L1418.5 361.9 L1430.7 362.5 L1442.9 361.9 L1455.1 359.5 L1467.2 357.9 L1479.4 357.9 L1491.6 358.5 L1503.8 359.3 L1515.9 359.9 L1528.1 360.9 L1540.3 361.9 L1552.4 362.5 L1564.6 363.1 L1576.8 363.9 L1589.0 365.5 L1601.1 366.9 L1613.3 368.5 L1625.5 370.5 L1637.7 372.5 L1649.8 374.3 L1662.0 375.9 L1674.2 376.9 L1686.3 378.3 L1698.5 379.3 L1710.7 379.9 L1722.9 380.2 L1735.0 380.9 L1747.2 383.9 L1759.4 387.4 L1771.6 389.9 L1783.7 392.9 L1795.9 394.3 L1808.1 395.5 L1820.2 396.5 L1832.4 397.9 L1844.6 399.9 L1856.8 401.9 L1868.9 403.9 L1881.1 405.9 L1893.3 407.9 L1905.5 409.9 L1917.6 411.9 L1929.8 414.3 L1942.0 416.3" stroke-width="1.6" stroke-linejoin="round"/>
<path d="M1223.8 219.4v19.6M1217.2 222.6l13.2 13.2M1217.2 235.8l13.2 -13.2M1235.9 264.7v19.6M1229.3 267.9l13.2 13.2M1229.3 281.1l13.2 -13.2M1248.1 288.1v19.6M1241.5 291.3l13.2 13.2M1241.5 304.5l13.2 -13.2M1260.3 299.0v19.6M1253.7 302.2l13.2 13.2M1253.7 315.4l13.2 -13.2M1272.5 308.7v19.6M1265.9 311.9l13.2 13.2M1265.9 325.1l13.2 -13.2M1284.6 320.8v19.6M1278.0 324.0l13.2 13.2M1278.0 337.2l13.2 -13.2M1296.8 321.5v19.6M1290.2 324.7l13.2 13.2M1290.2 337.9l13.2 -13.2M1309.0 326.6v19.6M1302.4 329.8l13.2 13.2M1302.4 343.0l13.2 -13.2M1321.2 328.0v19.6M1314.6 331.2l13.2 13.2M1314.6 344.4l13.2 -13.2M1333.3 332.5v19.6M1326.7 335.7l13.2 13.2M1326.7 348.9l13.2 -13.2M1345.5 336.7v19.6M1338.9 339.9l13.2 13.2M1338.9 353.1l13.2 -13.2M1357.7 338.0v19.6M1351.1 341.2l13.2 13.2M1351.1 354.4l13.2 -13.2M1369.8 341.2v19.6M1363.2 344.4l13.2 13.2M1363.2 357.6l13.2 -13.2M1382.0 343.7v19.6M1375.4 346.9l13.2 13.2M1375.4 360.1l13.2 -13.2M1394.2 347.5v19.6M1387.6 350.7l13.2 13.2M1387.6 363.9l13.2 -13.2M1406.4 349.1v19.6M1399.8 352.3l13.2 13.2M1399.8 365.5l13.2 -13.2M1418.5 352.1v19.6M1411.9 355.3l13.2 13.2M1411.9 368.5l13.2 -13.2M1430.7 352.7v19.6M1424.1 355.9l13.2 13.2M1424.1 369.1l13.2 -13.2M1442.9 352.1v19.6M1436.3 355.3l13.2 13.2M1436.3 368.5l13.2 -13.2M1455.1 349.7v19.6M1448.5 352.9l13.2 13.2M1448.5 366.1l13.2 -13.2M1467.2 348.1v19.6M1460.6 351.3l13.2 13.2M1460.6 364.5l13.2 -13.2M1479.4 348.1v19.6M1472.8 351.3l13.2 13.2M1472.8 364.5l13.2 -13.2M1491.6 348.7v19.6M1485.0 351.9l13.2 13.2M1485.0 365.1l13.2 -13.2M1503.8 349.5v19.6M1497.2 352.7l13.2 13.2M1497.2 365.9l13.2 -13.2M1515.9 350.1v19.6M1509.3 353.3l13.2 13.2M1509.3 366.5l13.2 -13.2M1528.1 351.1v19.6M1521.5 354.3l13.2 13.2M1521.5 367.5l13.2 -13.2M1540.3 352.1v19.6M1533.7 355.3l13.2 13.2M1533.7 368.5l13.2 -13.2M1552.4 352.7v19.6M1545.8 355.9l13.2 13.2M1545.8 369.1l13.2 -13.2M1564.6 353.3v19.6M1558.0 356.5l13.2 13.2M1558.0 369.7l13.2 -13.2M1576.8 354.1v19.6M1570.2 357.3l13.2 13.2M1570.2 370.5l13.2 -13.2M1589.0 355.7v19.6M1582.4 358.9l13.2 13.2M1582.4 372.1l13.2 -13.2M1601.1 357.1v19.6M1594.5 360.3l13.2 13.2M1594.5 373.5l13.2 -13.2M1613.3 358.7v19.6M1606.7 361.9l13.2 13.2M1606.7 375.1l13.2 -13.2M1625.5 360.7v19.6M1618.9 363.9l13.2 13.2M1618.9 377.1l13.2 -13.2M1637.7 362.7v19.6M1631.1 365.9l13.2 13.2M1631.1 379.1l13.2 -13.2M1649.8 364.5v19.6M1643.2 367.7l13.2 13.2M1643.2 380.9l13.2 -13.2M1662.0 366.1v19.6M1655.4 369.3l13.2 13.2M1655.4 382.5l13.2 -13.2M1674.2 367.1v19.6M1667.6 370.3l13.2 13.2M1667.6 383.5l13.2 -13.2M1686.3 368.5v19.6M1679.7 371.7l13.2 13.2M1679.7 384.9l13.2 -13.2M1698.5 369.5v19.6M1691.9 372.7l13.2 13.2M1691.9 385.9l13.2 -13.2M1710.7 370.1v19.6M1704.1 373.3l13.2 13.2M1704.1 386.5l13.2 -13.2M1722.9 370.4v19.6M1716.3 373.6l13.2 13.2M1716.3 386.8l13.2 -13.2M1735.0 371.1v19.6M1728.4 374.3l13.2 13.2M1728.4 387.5l13.2 -13.2M1747.2 374.1v19.6M1740.6 377.3l13.2 13.2M1740.6 390.5l13.2 -13.2M1759.4 377.6v19.6M1752.8 380.8l13.2 13.2M1752.8 394.0l13.2 -13.2M1771.6 380.1v19.6M1765.0 383.3l13.2 13.2M1765.0 396.5l13.2 -13.2M1783.7 383.1v19.6M1777.1 386.3l13.2 13.2M1777.1 399.5l13.2 -13.2M1795.9 384.5v19.6M1789.3 387.7l13.2 13.2M1789.3 400.9l13.2 -13.2M1808.1 385.7v19.6M1801.5 388.9l13.2 13.2M1801.5 402.1l13.2 -13.2M1820.2 386.7v19.6M1813.7 389.9l13.2 13.2M1813.7 403.1l13.2 -13.2M1832.4 388.1v19.6M1825.8 391.3l13.2 13.2M1825.8 404.5l13.2 -13.2M1844.6 390.1v19.6M1838.0 393.3l13.2 13.2M1838.0 406.5l13.2 -13.2M1856.8 392.1v19.6M1850.2 395.3l13.2 13.2M1850.2 408.5l13.2 -13.2M1868.9 394.1v19.6M1862.3 397.3l13.2 13.2M1862.3 410.5l13.2 -13.2M1881.1 396.1v19.6M1874.5 399.3l13.2 13.2M1874.5 412.5l13.2 -13.2M1893.3 398.1v19.6M1886.7 401.3l13.2 13.2M1886.7 414.5l13.2 -13.2M1905.5 400.1v19.6M1898.9 403.3l13.2 13.2M1898.9 416.5l13.2 -13.2M1917.6 402.1v19.6M1911.0 405.3l13.2 13.2M1911.0 418.5l13.2 -13.2M1929.8 404.5v19.6M1923.2 407.7l13.2 13.2M1923.2 420.9l13.2 -13.2M1942.0 406.5v19.6M1935.4 409.7l13.2 13.2M1935.4 422.9l13.2 -13.2" stroke-width="1.7"/>
<path d="M1214.0 229.2h19.6M1226.1 274.5h19.6M1238.3 297.9h19.6M1250.5 308.8h19.6M1262.7 318.5h19.6M1274.8 330.6h19.6M1287.0 331.3h19.6M1299.2 336.4h19.6M1311.4 337.8h19.6M1323.5 342.3h19.6M1335.7 346.5h19.6M1347.9 347.8h19.6M1360.0 351.0h19.6M1372.2 353.5h19.6M1384.4 357.3h19.6M1396.6 358.9h19.6M1408.7 361.9h19.6M1420.9 362.5h19.6M1433.1 361.9h19.6M1445.3 359.5h19.6M1457.4 357.9h19.6M1469.6 357.9h19.6M1481.8 358.5h19.6M1494.0 359.3h19.6M1506.1 359.9h19.6M1518.3 360.9h19.6M1530.5 361.9h19.6M1542.6 362.5h19.6M1554.8 363.1h19.6M1567.0 363.9h19.6M1579.2 365.5h19.6M1591.3 366.9h19.6M1603.5 368.5h19.6M1615.7 370.5h19.6M1627.9 372.5h19.6M1640.0 374.3h19.6M1652.2 375.9h19.6M1664.4 376.9h19.6M1676.5 378.3h19.6M1688.7 379.3h19.6M1700.9 379.9h19.6M1713.1 380.2h19.6M1725.2 380.9h19.6M1737.4 383.9h19.6M1749.6 387.4h19.6M1761.8 389.9h19.6M1773.9 392.9h19.6M1786.1 394.3h19.6M1798.3 395.5h19.6M1810.5 396.5h19.6M1822.6 397.9h19.6M1834.8 399.9h19.6M1847.0 401.9h19.6M1859.1 403.9h19.6M1871.3 405.9h19.6M1883.5 407.9h19.6M1895.7 409.9h19.6M1907.8 411.9h19.6M1920.0 414.3h19.6M1932.2 416.3h19.6" stroke-width="2.5"/>
</g>
<g stroke="#ff00ff" stroke-width="1.75" fill="none">
<path d="M1223.8 203.8V253.3M1214.0 203.8h19.6M1214.0 253.3h19.6M1235.9 248.3V295.8M1226.1 248.3h19.6M1226.1 295.8h19.6M1248.1 273.8V320.4M1238.3 273.8h19.6M1238.3 320.4h19.6M1260.3 292.3V338.9M1250.5 292.3h19.6M1250.5 338.9h19.6M1272.5 308.7V355.2M1262.7 308.7h19.6M1262.7 355.2h19.6M1284.6 314.7V361.2M1274.8 314.7h19.6M1274.8 361.2h19.6M1296.8 323.1V369.6M1287.0 323.1h19.6M1287.0 369.6h19.6M1309.0 335.7V382.1M1299.2 335.7h19.6M1299.2 382.1h19.6M1321.2 341.7V388.1M1311.4 341.7h19.6M1311.4 388.1h19.6M1333.3 344.1V390.5M1323.5 344.1h19.6M1323.5 390.5h19.6M1345.5 349.0V395.3M1335.7 349.0h19.6M1335.7 395.3h19.6M1357.7 353.8V400.1M1347.9 353.8h19.6M1347.9 400.1h19.6M1369.8 354.9V400.9M1360.0 354.9h19.6M1360.0 400.9h19.6M1382.0 357.1V402.8M1372.2 357.1h19.6M1372.2 402.8h19.6M1394.2 362.5V408.0M1384.4 362.5h19.6M1384.4 408.0h19.6M1406.4 366.6V411.8M1396.6 366.6h19.6M1396.6 411.8h19.6M1418.5 369.5V414.9M1408.7 369.5h19.6M1408.7 414.9h19.6M1430.7 371.4V416.9M1420.9 371.4h19.6M1420.9 416.9h19.6M1442.9 372.3V418.0M1433.1 372.3h19.6M1433.1 418.0h19.6M1455.1 374.2V420.1M1445.3 374.2h19.6M1445.3 420.1h19.6M1467.2 379.2V425.1M1457.4 379.2h19.6M1457.4 425.1h19.6M1479.4 381.1V427.2M1469.6 381.1h19.6M1469.6 427.2h19.6M1491.6 384.0V430.2M1481.8 384.0h19.6M1481.8 430.2h19.6M1503.8 385.6V432.0M1494.0 385.6h19.6M1494.0 432.0h19.6M1515.9 386.4V432.8M1506.1 386.4h19.6M1506.1 432.8h19.6M1528.1 386.8V433.2M1518.3 386.8h19.6M1518.3 433.2h19.6M1540.3 386.9V433.3M1530.5 386.9h19.6M1530.5 433.3h19.6M1552.4 387.2V433.8M1542.6 387.2h19.6M1542.6 433.8h19.6M1564.6 388.2V434.8M1554.8 388.2h19.6M1554.8 434.8h19.6M1576.8 389.7V436.3M1567.0 389.7h19.6M1567.0 436.3h19.6M1589.0 391.2V437.8M1579.2 391.2h19.6M1579.2 437.8h19.6M1601.1 393.1V439.5M1591.3 393.1h19.6M1591.3 439.5h19.6M1613.3 394.0V440.0M1603.5 394.0h19.6M1603.5 440.0h19.6M1625.5 395.0V440.8M1615.7 395.0h19.6M1615.7 440.8h19.6M1637.7 396.5V441.9M1627.9 396.5h19.6M1627.9 441.9h19.6M1649.8 396.8V442.0M1640.0 396.8h19.6M1640.0 442.0h19.6M1662.0 399.5V444.3M1652.2 399.5h19.6M1652.2 444.3h19.6M1674.2 401.6V446.2M1664.4 401.6h19.6M1664.4 446.2h19.6M1686.3 403.8V448.0M1676.5 403.8h19.6M1676.5 448.0h19.6M1698.5 405.9V449.9M1688.7 405.9h19.6M1688.7 449.9h19.6M1710.7 408.9V452.9M1700.9 408.9h19.6M1700.9 452.9h19.6M1722.9 410.9V454.9M1713.1 410.9h19.6M1713.1 454.9h19.6M1735.0 412.9V456.9M1725.2 412.9h19.6M1725.2 456.9h19.6M1747.2 414.9V458.9M1737.4 414.9h19.6M1737.4 458.9h19.6M1759.4 418.2V462.1M1749.6 418.2h19.6M1749.6 462.1h19.6M1771.6 420.2V464.0M1761.8 420.2h19.6M1761.8 464.0h19.6M1783.7 422.2V466.0M1773.9 422.2h19.6M1773.9 466.0h19.6M1795.9 424.2V468.0M1786.1 424.2h19.6M1786.1 468.0h19.6M1808.1 426.6V470.4M1798.3 426.6h19.6M1798.3 470.4h19.6M1820.2 428.8V472.6M1810.5 428.8h19.6M1810.5 472.6h19.6M1832.4 430.8V474.6M1822.6 430.8h19.6M1822.6 474.6h19.6M1844.6 432.2V476.0M1834.8 432.2h19.6M1834.8 476.0h19.6M1856.8 433.8V477.6M1847.0 433.8h19.6M1847.0 477.6h19.6M1868.9 434.8V478.6M1859.1 434.8h19.6M1859.1 478.6h19.6M1881.1 436.2V480.0M1871.3 436.2h19.6M1871.3 480.0h19.6M1893.3 436.6V480.2M1883.5 436.6h19.6M1883.5 480.2h19.6M1905.5 437.6V481.2M1895.7 437.6h19.6M1895.7 481.2h19.6M1917.6 438.6V482.2M1907.8 438.6h19.6M1907.8 482.2h19.6M1929.8 439.2V482.8M1920.0 439.2h19.6M1920.0 482.8h19.6M1942.0 439.4V483.0M1932.2 439.4h19.6M1932.2 483.0h19.6"/>
<path d="M1223.8 229.3 L1235.9 272.8 L1248.1 297.1 L1260.3 315.6 L1272.5 331.9 L1284.6 337.9 L1296.8 346.3 L1309.0 358.8 L1321.2 364.8 L1333.3 367.2 L1345.5 372.0 L1357.7 376.8 L1369.8 377.8 L1382.0 379.8 L1394.2 385.1 L1406.4 389.1 L1418.5 392.1 L1430.7 394.1 L1442.9 395.1 L1455.1 397.1 L1467.2 402.1 L1479.4 404.1 L1491.6 407.1 L1503.8 408.8 L1515.9 409.6 L1528.1 410.0 L1540.3 410.1 L1552.4 410.5 L1564.6 411.5 L1576.8 413.0 L1589.0 414.5 L1601.1 416.3 L1613.3 417.0 L1625.5 417.9 L1637.7 419.2 L1649.8 419.4 L1662.0 421.9 L1674.2 423.9 L1686.3 425.9 L1698.5 427.9 L1710.7 430.9 L1722.9 432.9 L1735.0 434.9 L1747.2 436.9 L1759.4 440.2 L1771.6 442.1 L1783.7 444.1 L1795.9 446.1 L1808.1 448.5 L1820.2 450.7 L1832.4 452.7 L1844.6 454.1 L1856.8 455.7 L1868.9 456.7 L1881.1 458.1 L1893.3 458.4 L1905.5 459.4 L1917.6 460.4 L1929.8 461.0 L1942.0 461.2" stroke-width="1.6" stroke-linejoin="round"/>
<path d="M1223.8 219.5v19.6M1217.2 222.7l13.2 13.2M1217.2 235.9l13.2 -13.2M1235.9 263.0v19.6M1229.3 266.2l13.2 13.2M1229.3 279.4l13.2 -13.2M1248.1 287.3v19.6M1241.5 290.5l13.2 13.2M1241.5 303.7l13.2 -13.2M1260.3 305.8v19.6M1253.7 309.0l13.2 13.2M1253.7 322.2l13.2 -13.2M1272.5 322.1v19.6M1265.9 325.3l13.2 13.2M1265.9 338.5l13.2 -13.2M1284.6 328.1v19.6M1278.0 331.3l13.2 13.2M1278.0 344.5l13.2 -13.2M1296.8 336.5v19.6M1290.2 339.7l13.2 13.2M1290.2 352.9l13.2 -13.2M1309.0 349.0v19.6M1302.4 352.2l13.2 13.2M1302.4 365.4l13.2 -13.2M1321.2 355.0v19.6M1314.6 358.2l13.2 13.2M1314.6 371.4l13.2 -13.2M1333.3 357.4v19.6M1326.7 360.6l13.2 13.2M1326.7 373.8l13.2 -13.2M1345.5 362.2v19.6M1338.9 365.4l13.2 13.2M1338.9 378.6l13.2 -13.2M1357.7 367.0v19.6M1351.1 370.2l13.2 13.2M1351.1 383.4l13.2 -13.2M1369.8 368.0v19.6M1363.2 371.2l13.2 13.2M1363.2 384.4l13.2 -13.2M1382.0 370.0v19.6M1375.4 373.2l13.2 13.2M1375.4 386.4l13.2 -13.2M1394.2 375.3v19.6M1387.6 378.5l13.2 13.2M1387.6 391.7l13.2 -13.2M1406.4 379.3v19.6M1399.8 382.5l13.2 13.2M1399.8 395.7l13.2 -13.2M1418.5 382.3v19.6M1411.9 385.5l13.2 13.2M1411.9 398.7l13.2 -13.2M1430.7 384.3v19.6M1424.1 387.5l13.2 13.2M1424.1 400.7l13.2 -13.2M1442.9 385.3v19.6M1436.3 388.5l13.2 13.2M1436.3 401.7l13.2 -13.2M1455.1 387.3v19.6M1448.5 390.5l13.2 13.2M1448.5 403.7l13.2 -13.2M1467.2 392.3v19.6M1460.6 395.5l13.2 13.2M1460.6 408.7l13.2 -13.2M1479.4 394.3v19.6M1472.8 397.5l13.2 13.2M1472.8 410.7l13.2 -13.2M1491.6 397.3v19.6M1485.0 400.5l13.2 13.2M1485.0 413.7l13.2 -13.2M1503.8 399.0v19.6M1497.2 402.2l13.2 13.2M1497.2 415.4l13.2 -13.2M1515.9 399.8v19.6M1509.3 403.0l13.2 13.2M1509.3 416.2l13.2 -13.2M1528.1 400.2v19.6M1521.5 403.4l13.2 13.2M1521.5 416.6l13.2 -13.2M1540.3 400.3v19.6M1533.7 403.5l13.2 13.2M1533.7 416.7l13.2 -13.2M1552.4 400.7v19.6M1545.8 403.9l13.2 13.2M1545.8 417.1l13.2 -13.2M1564.6 401.7v19.6M1558.0 404.9l13.2 13.2M1558.0 418.1l13.2 -13.2M1576.8 403.2v19.6M1570.2 406.4l13.2 13.2M1570.2 419.6l13.2 -13.2M1589.0 404.7v19.6M1582.4 407.9l13.2 13.2M1582.4 421.1l13.2 -13.2M1601.1 406.5v19.6M1594.5 409.7l13.2 13.2M1594.5 422.9l13.2 -13.2M1613.3 407.2v19.6M1606.7 410.4l13.2 13.2M1606.7 423.6l13.2 -13.2M1625.5 408.1v19.6M1618.9 411.3l13.2 13.2M1618.9 424.5l13.2 -13.2M1637.7 409.4v19.6M1631.1 412.6l13.2 13.2M1631.1 425.8l13.2 -13.2M1649.8 409.6v19.6M1643.2 412.8l13.2 13.2M1643.2 426.0l13.2 -13.2M1662.0 412.1v19.6M1655.4 415.3l13.2 13.2M1655.4 428.5l13.2 -13.2M1674.2 414.1v19.6M1667.6 417.3l13.2 13.2M1667.6 430.5l13.2 -13.2M1686.3 416.1v19.6M1679.7 419.3l13.2 13.2M1679.7 432.5l13.2 -13.2M1698.5 418.1v19.6M1691.9 421.3l13.2 13.2M1691.9 434.5l13.2 -13.2M1710.7 421.1v19.6M1704.1 424.3l13.2 13.2M1704.1 437.5l13.2 -13.2M1722.9 423.1v19.6M1716.3 426.3l13.2 13.2M1716.3 439.5l13.2 -13.2M1735.0 425.1v19.6M1728.4 428.3l13.2 13.2M1728.4 441.5l13.2 -13.2M1747.2 427.1v19.6M1740.6 430.3l13.2 13.2M1740.6 443.5l13.2 -13.2M1759.4 430.4v19.6M1752.8 433.6l13.2 13.2M1752.8 446.8l13.2 -13.2M1771.6 432.3v19.6M1765.0 435.5l13.2 13.2M1765.0 448.7l13.2 -13.2M1783.7 434.3v19.6M1777.1 437.5l13.2 13.2M1777.1 450.7l13.2 -13.2M1795.9 436.3v19.6M1789.3 439.5l13.2 13.2M1789.3 452.7l13.2 -13.2M1808.1 438.7v19.6M1801.5 441.9l13.2 13.2M1801.5 455.1l13.2 -13.2M1820.2 440.9v19.6M1813.7 444.1l13.2 13.2M1813.7 457.3l13.2 -13.2M1832.4 442.9v19.6M1825.8 446.1l13.2 13.2M1825.8 459.3l13.2 -13.2M1844.6 444.3v19.6M1838.0 447.5l13.2 13.2M1838.0 460.7l13.2 -13.2M1856.8 445.9v19.6M1850.2 449.1l13.2 13.2M1850.2 462.3l13.2 -13.2M1868.9 446.9v19.6M1862.3 450.1l13.2 13.2M1862.3 463.3l13.2 -13.2M1881.1 448.3v19.6M1874.5 451.5l13.2 13.2M1874.5 464.7l13.2 -13.2M1893.3 448.6v19.6M1886.7 451.8l13.2 13.2M1886.7 465.0l13.2 -13.2M1905.5 449.6v19.6M1898.9 452.8l13.2 13.2M1898.9 466.0l13.2 -13.2M1917.6 450.6v19.6M1911.0 453.8l13.2 13.2M1911.0 467.0l13.2 -13.2M1929.8 451.2v19.6M1923.2 454.4l13.2 13.2M1923.2 467.6l13.2 -13.2M1942.0 451.4v19.6M1935.4 454.6l13.2 13.2M1935.4 467.8l13.2 -13.2" stroke-width="1.7"/>
<path d="M1214.0 229.3h19.6M1226.1 272.8h19.6M1238.3 297.1h19.6M1250.5 315.6h19.6M1262.7 331.9h19.6M1274.8 337.9h19.6M1287.0 346.3h19.6M1299.2 358.8h19.6M1311.4 364.8h19.6M1323.5 367.2h19.6M1335.7 372.0h19.6M1347.9 376.8h19.6M1360.0 377.8h19.6M1372.2 379.8h19.6M1384.4 385.1h19.6M1396.6 389.1h19.6M1408.7 392.1h19.6M1420.9 394.1h19.6M1433.1 395.1h19.6M1445.3 397.1h19.6M1457.4 402.1h19.6M1469.6 404.1h19.6M1481.8 407.1h19.6M1494.0 408.8h19.6M1506.1 409.6h19.6M1518.3 410.0h19.6M1530.5 410.1h19.6M1542.6 410.5h19.6M1554.8 411.5h19.6M1567.0 413.0h19.6M1579.2 414.5h19.6M1591.3 416.3h19.6M1603.5 417.0h19.6M1615.7 417.9h19.6M1627.9 419.2h19.6M1640.0 419.4h19.6M1652.2 421.9h19.6M1664.4 423.9h19.6M1676.5 425.9h19.6M1688.7 427.9h19.6M1700.9 430.9h19.6M1713.1 432.9h19.6M1725.2 434.9h19.6M1737.4 436.9h19.6M1749.6 440.2h19.6M1761.8 442.1h19.6M1773.9 444.1h19.6M1786.1 446.1h19.6M1798.3 448.5h19.6M1810.5 450.7h19.6M1822.6 452.7h19.6M1834.8 454.1h19.6M1847.0 455.7h19.6M1859.1 456.7h19.6M1871.3 458.1h19.6M1883.5 458.4h19.6M1895.7 459.4h19.6M1907.8 460.4h19.6M1920.0 461.0h19.6M1932.2 461.2h19.6" stroke-width="2.5"/>
</g>
<g stroke="#000000" stroke-width="2" fill="none">
<path d="M1796 94.9 H1847.6 M1821.9 79.2 V110.60000000000001 M1816.6000000000001 79.2 h10.6 M1816.6000000000001 110.60000000000001 h10.6"/>
<path d="M1817.5 94.9 h8.8 M1821.9 90.5 v8.8 M1818.8000000000002 91.80000000000001 l6.2 6.2 M1818.8000000000002 98.0 l6.2 -6.2" stroke-width="2.2"/>
</g>
<text transform="translate(1850.49 107.50) scale(0.3411 0.3292)" font-family="'Liberation Sans', Arial, sans-serif" font-size="100" fill="#000">Control</text>
<g stroke="#ff0000" stroke-width="2" fill="none">
<path d="M1796 137.55 H1847.6 M1821.9 121.85000000000001 V153.25 M1816.6000000000001 121.85000000000001 h10.6 M1816.6000000000001 153.25 h10.6"/>
<path d="M1817.5 137.55 h8.8 M1821.9 133.15 v8.8 M1818.8000000000002 134.45000000000002 l6.2 6.2 M1818.8000000000002 140.65 l6.2 -6.2" stroke-width="2.2"/>
</g>
<text transform="translate(1850.72 150.15) scale(0.3415 0.3415)" font-family="'Liberation Sans', Arial, sans-serif" font-size="100" fill="#000">330 nm</text>
<g stroke="#0000ff" stroke-width="2" fill="none">
<path d="M1796 180.2 H1847.6 M1821.9 164.5 V195.89999999999998 M1816.6000000000001 164.5 h10.6 M1816.6000000000001 195.89999999999998 h10.6"/>
<path d="M1817.5 180.2 h8.8 M1821.9 175.79999999999998 v8.8 M1818.8000000000002 177.1 l6.2 6.2 M1818.8000000000002 183.29999999999998 l6.2 -6.2" stroke-width="2.2"/>
</g>
<text transform="translate(1851.71 192.80) scale(0.3385 0.3385)" font-family="'Liberation Sans', Arial, sans-serif" font-size="100" fill="#000">725 nm</text>
<g stroke="#ff00ff" stroke-width="2" fill="none">
<path d="M1796 222.85 H1847.6 M1821.9 207.15 V238.54999999999998 M1816.6000000000001 207.15 h10.6 M1816.6000000000001 238.54999999999998 h10.6"/>
<path d="M1817.5 222.85 h8.8 M1821.9 218.45 v8.8 M1818.8000000000002 219.75 l6.2 6.2 M1818.8000000000002 225.95 l6.2 -6.2" stroke-width="2.2"/>
</g>
<text transform="translate(1851.86 235.45) scale(0.3387 0.3387)" font-family="'Liberation Sans', Arial, sans-serif" font-size="100" fill="#000">1000 nm</text>
<g id="inset">
<path d="M1391 183 L1560.5 109.2" stroke="#000" stroke-width="3.6" fill="none"/>
<path d="M1384.8 177.0 C1385.0 175.0 1385.0 168.6 1385.7 164.8 C1386.4 161.0 1387.5 158.1 1389.2 154.3 C1391.0 150.5 1394.0 145.4 1396.2 142.1 C1398.4 138.8 1400.0 136.4 1402.3 134.2 C1404.6 132.0 1407.4 130.2 1410.2 129.0 C1413.0 127.8 1416.3 127.9 1418.9 127.2 C1421.5 126.5 1423.3 126.5 1425.9 124.6 C1428.5 122.7 1432.0 119.4 1434.6 115.9 C1437.2 112.4 1439.7 108.1 1441.6 103.7 C1443.5 99.3 1445.0 93.4 1446.0 89.7 C1447.0 86.0 1447.2 83.0 1447.9 81.3 C1448.6 79.6 1449.8 80.0 1450.2 79.7" stroke="#ff0000" stroke-width="3.5" fill="none" stroke-linejoin="round"/>
<path d="M1450.2 79.7 C1451.5 79.7 1455.1 79.6 1458.0 79.6 C1460.9 79.6 1464.5 79.7 1467.8 79.9 C1471.1 80.1 1474.7 80.4 1478.0 80.7 C1481.3 81.0 1483.0 80.9 1487.5 81.5 C1492.0 82.1 1499.2 83.4 1505.0 84.4 C1510.8 85.4 1516.6 86.2 1522.4 87.7 C1528.2 89.2 1535.2 91.5 1539.9 93.7 C1544.6 95.9 1547.6 98.5 1550.3 100.7 C1553.0 103.0 1555.0 106.1 1556.0 107.2" stroke="#ff0000" stroke-width="3.5" fill="none" stroke-linejoin="round"/>
<path d="M1381.6 148.6 L1401.6 136.2 L1401.0 160.6" stroke="#000" stroke-width="4.8" fill="none" stroke-linejoin="miter"/>
<path d="M1507.4 71.2 L1522.0 87.2 L1499.8 92.5" stroke="#000" stroke-width="4.8" fill="none" stroke-linejoin="miter"/>
<circle cx="1391" cy="182.8" r="8.8" fill="#000"/>
<circle cx="1560.8" cy="111.5" r="8.8" fill="#000"/>
<path d="M1401 184.3 H1558" stroke="#000" stroke-width="2.2" stroke-dasharray="7.6 4.4" fill="none"/>
<path d="M1560.3 126 V179" stroke="#000" stroke-width="2.2" stroke-dasharray="6.5 4" fill="none"/>
<path d="M1554.4 133.8 L1560.3 124 L1566.2 133.8 M1554.0 170.4 L1560.3 181 L1566.6 170.4" stroke="#000" stroke-width="2.2" fill="none"/>
<text transform="translate(1458.11 135.98) scale(0.3044 0.3197)" font-family="'Liberation Sans', Arial, sans-serif" font-size="100" fill="#000">d</text>
<text transform="translate(1330.03 228.50) scale(0.3570 0.3455)" font-family="'Liberation Sans', Arial, sans-serif" font-size="100" font-weight="bold" fill="#000">Start</text>
<text transform="translate(1421.53 228.03) scale(0.3735 0.3743)" font-family="'Liberation Sans', Arial, sans-serif" font-size="100" font-weight="bold" fill="#000">(t=0)</text>
<text transform="translate(1581.33 111.30) scale(0.3368 0.3545)" font-family="'Liberation Sans', Arial, sans-serif" font-size="100" font-weight="bold" fill="#000">Finish</text>
<text transform="translate(1688.96 110.54) scale(0.3879 0.3882)" font-family="'Liberation Sans', Arial, sans-serif" font-size="100" font-weight="bold" fill="#000">(t=</text>
<text transform="translate(1737.19 111.10) scale(0.3687 0.3622)" font-family="'Liberation Sans', Arial, sans-serif" font-size="100" fill="#000">Δ</text>
<text transform="translate(1763.12 110.54) scale(0.3107 0.3882)" font-family="'Liberation Sans', Arial, sans-serif" font-size="100" font-weight="bold" fill="#000">)</text>
<text transform="translate(1293.19 113.00) scale(0.3802 0.4152)" font-family="'Liberation Serif', 'DejaVu Serif', serif" font-size="100" font-weight="bold" font-style="italic" fill="#000">D</text>
<text transform="translate(1324.44 111.00) scale(0.4621 0.4187)" font-family="'Liberation Serif', 'DejaVu Serif', serif" font-size="100" fill="#000">(</text>
<text transform="translate(1340.44 113.09) scale(0.4682 0.4133)" font-family="'Liberation Serif', 'DejaVu Serif', serif" font-size="100" font-weight="bold" fill="#000">0</text>
<text transform="translate(1363.30 111.92) scale(0.3733 0.3922)" font-family="'Liberation Serif', 'DejaVu Serif', serif" font-size="100" fill="#000">,</text>
<text transform="translate(1377.47 113.10) scale(0.3824 0.4212)" font-family="'Liberation Serif', 'DejaVu Serif', serif" font-size="100" fill="#000">Δ</text>
<text transform="translate(1401.63 111.00) scale(0.4816 0.4187)" font-family="'Liberation Serif', 'DejaVu Serif', serif" font-size="100" fill="#000">)</text>
<text transform="translate(1581.99 166.38) scale(0.4840 0.4170)" font-family="'Liberation Serif', 'DejaVu Serif', serif" font-size="100" font-weight="bold" font-style="italic" fill="#000">d</text>
<text transform="translate(1610.71 173.59) scale(0.3105 0.3259)" font-family="'Liberation Serif', 'DejaVu Serif', serif" font-size="100" font-weight="bold" font-style="italic" fill="#000">y</text>
<text transform="translate(1628.12 163.12) scale(0.5126 0.4132)" font-family="'Liberation Serif', 'DejaVu Serif', serif" font-size="100" fill="#000">(</text>
<text transform="translate(1644.80 166.49) scale(0.4800 0.4119)" font-family="'Liberation Serif', 'DejaVu Serif', serif" font-size="100" font-weight="bold" fill="#000">0</text>
<text transform="translate(1667.30 165.40) scale(0.4800 0.3806)" font-family="'Liberation Serif', 'DejaVu Serif', serif" font-size="100" fill="#000">,</text>
<text transform="translate(1682.97 166.60) scale(0.3806 0.4212)" font-family="'Liberation Serif', 'DejaVu Serif', serif" font-size="100" fill="#000">Δ</text>
<text transform="translate(1706.88 163.12) scale(0.4971 0.4132)" font-family="'Liberation Serif', 'DejaVu Serif', serif" font-size="100" fill="#000">)</text>
</g>
<text transform="translate(1317.59 295.30) scale(0.3162 0.3159)" font-family="'Liberation Sans', Arial, sans-serif" font-size="100" fill="#000">Directional displacement ratio =</text>
<path d="M1766.5 285.4 H1851.8" stroke="#000" stroke-width="2.2" fill="none"/>
<text transform="translate(1767.71 273.26) scale(0.2646 0.2411)" font-family="'Liberation Serif', 'DejaVu Serif', serif" font-size="100" font-style="italic" fill="#000">d</text>
<text transform="translate(1785.44 277.65) scale(0.2351 0.2207)" font-family="'Liberation Serif', 'DejaVu Serif', serif" font-size="100" font-style="italic" fill="#000">y</text>
<text transform="translate(1798.79 272.54) scale(0.2606 0.2523)" font-family="'Liberation Serif', 'DejaVu Serif', serif" font-size="100" fill="#000">(0,Δ)</text>
<text transform="translate(1774.26 312.64) scale(0.2069 0.2403)" font-family="'Liberation Serif', 'DejaVu Serif', serif" font-size="100" font-style="italic" fill="#000">D</text>
<text transform="translate(1792.29 312.94) scale(0.2606 0.2567)" font-family="'Liberation Serif', 'DejaVu Serif', serif" font-size="100" fill="#000">(0,Δ)</text>
<g transform="translate(1126.6 691.3) rotate(-90)"><text transform="translate(-3.93 0.00) scale(0.4766 0.4703)" font-family="'Liberation Sans', Arial, sans-serif" font-size="100" fill="#000">Directional displacement ratio</text></g>
<text transform="translate(1466.77 787.50) scale(0.4352 0.4833)" font-family="'Liberation Serif', 'DejaVu Serif', serif" font-size="100" fill="#000">Δ</text>
<text transform="translate(1506.63 787.50) scale(0.4963 0.4634)" font-family="'Liberation Serif', 'DejaVu Serif', serif" font-size="100" fill="#000">Time</text>
<text transform="translate(1622.53 791.60) scale(0.4629 0.5410)" font-family="'Liberation Serif', 'DejaVu Serif', serif" font-size="100" fill="#000">[</text>
<text transform="translate(1638.50 787.50) scale(0.5007 0.4574)" font-family="'Liberation Serif', 'DejaVu Serif', serif" font-size="100" fill="#000">mins</text>
<text transform="translate(1736.44 791.60) scale(0.4444 0.5410)" font-family="'Liberation Serif', 'DejaVu Serif', serif" font-size="100" fill="#000">]</text>
<text transform="translate(1017.15 47.60) scale(0.6098 0.6263)" font-family="'Liberation Sans', Arial, sans-serif" font-size="100" font-weight="bold" fill="#000">(b)</text>
</g>
</svg>
</body>
</html>
